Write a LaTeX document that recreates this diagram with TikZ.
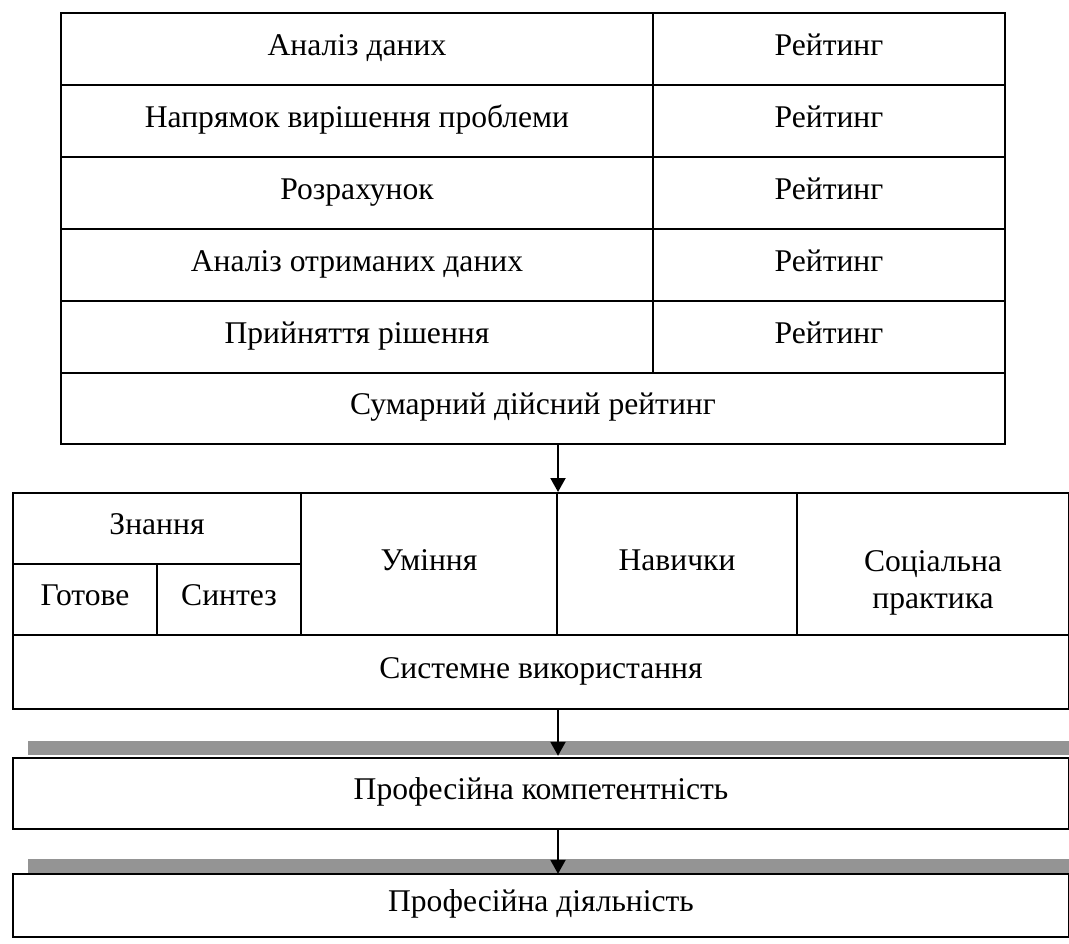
\documentclass[tikz,border=0pt]{standalone}
\usepackage{fontspec}
\setmainfont{Liberation Serif}
\usetikzlibrary{arrows.meta,positioning}

\begin{document}
\begin{tikzpicture}[x=0.5pt,y=-0.5pt,
	txt/.style={font=\fontsize{15.8}{18.5}\selectfont},
	cell/.style={txt, draw, line width=1pt, anchor=north west, inner sep=0pt, text height=10.5pt, text depth=4.5pt},
	bar/.style={fill=black!42, anchor=north west, inner sep=0pt, minimum width=520.5pt, minimum height=7pt},
	arr/.style={line width=1pt, -{Triangle[width=7.5pt,length=7pt]}}]
		\useasboundingbox (0,0) rectangle (1069,943);

		% rating table
		\foreach \txt [count=\i] in {Аналіз даних, Напрямок вирішення проблеми, Розрахунок, Аналіз отриманих даних, Прийняття рішення} {
			\node[cell, minimum width=296pt, minimum height=36pt] (step\i) at (60,{12+72*(\i-1)}) {\txt};
			\node[cell, minimum width=176pt, minimum height=36pt] (rate\i) at (652,{12+72*(\i-1)}) {Рейтинг};
		}
		\node[cell, minimum width=472pt, minimum height=35.5pt] (sum) at (60,372) {Сумарний дійсний рейтинг};

		% components
		\node[cell, minimum width=144pt, minimum height=35.5pt] (know) at (12,492) {Знання};
		\node[cell, minimum width=72pt, minimum height=35.5pt] (ready) at (12,563) {Готове};
		\node[cell, minimum width=72pt, minimum height=35.5pt] (synth) at (156,563) {Синтез};
		\node[cell, minimum width=128pt, minimum height=71pt] (umin) at (300,492) {Уміння};
		\node[cell, minimum width=120pt, minimum height=71pt] (navy) at (556,492) {Навички};
		\node[cell, minimum width=136pt, minimum height=71pt] (soc) at (796,492) {};
		\node[txt, align=center] (soctxt) at ([yshift=-9.5pt]soc.center) {Соціальна\\практика};
		\node[cell, minimum width=528pt, minimum height=37pt] (sys) at (12,634) {Системне використання};

		% result
		\node[bar] (bar1) at (28,741) {};
		\node[cell, minimum width=528pt, minimum height=35.5pt] (comp) at (12,757) {Професійна компетентність};
		\node[bar] (bar2) at (28,859) {};
		\node[cell, minimum width=528pt, minimum height=31.5pt] (act) at (12,873) {Професійна діяльність};

		\draw[arr] (sum.south -| umin.north east) -- (umin.north east);
		\draw[arr] (sys.south -| umin.south east) -- (bar1.south -| umin.south east);
		\draw[arr] (comp.south -| umin.south east) -- (bar2.south -| umin.south east);
	\end{tikzpicture}
\end{document}
